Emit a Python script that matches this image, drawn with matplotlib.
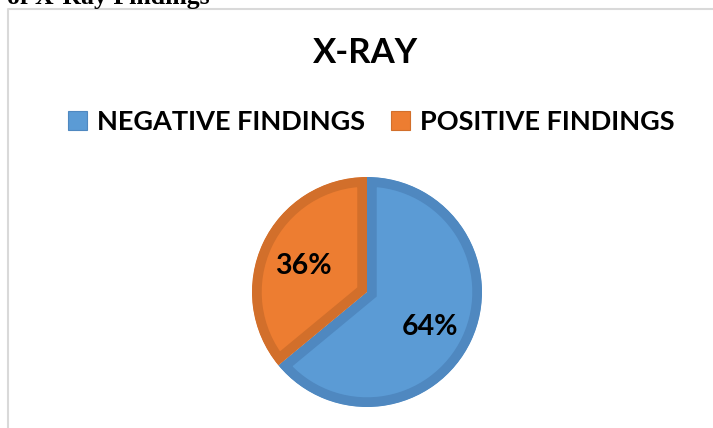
import matplotlib
matplotlib.use("Agg")
import matplotlib.pyplot as plt
import matplotlib.patches as mpatches

# data
labels = ["NEGATIVE FINDINGS", "POSITIVE FINDINGS"]
values = [64, 36]
pct_text = ["64%", "36%"]
fills = ["#5B9BD5", "#ED7D31"]
edges = ["#4F88C0", "#D26F2B"]

W, H = 713, 428
fig = plt.figure(figsize=(W / 100, H / 100), dpi=100)
ax = fig.add_axes([0, 0, 1, 1])

# caption cut off at the top of the page
ax.text(7, H - 4, "of X-Ray Findings", family="Liberation Serif", fontweight="bold",
        fontsize=18.5, va="baseline", ha="left", clip_on=False)

# chart frame (only top and left visible)
ax.plot([8, 8, W], [0, H - 9, H - 9], color="#d9d9d9", lw=1.5, solid_capstyle="butt")

font = dict(family="Lato", fontweight="bold")
ax.text(366, H - 53, "X-RAY", fontsize=25, ha="center", va="center", **font)

wedges, _ = ax.pie(values, colors=fills, startangle=90, counterclock=False,
                   center=(367, H - 292), radius=115, frame=True,
                   wedgeprops=dict(linewidth=14))
# keep the outline inside each slice
for w, ec in zip(wedges, edges):
    w.set_edgecolor(ec)
    w.set_clip_on(True)
    w.set_clip_path(w)
ax.set_xlim(0, W)
ax.set_ylim(0, H)
ax.set_aspect("equal")
ax.axis("off")

ax.text(430, H - 327, pct_text[0], fontsize=20.5, ha="center", va="center", **font)
ax.text(303, H - 266, pct_text[1], fontsize=20.5, ha="center", va="center", **font)

handles = [mpatches.Patch(facecolor=f, edgecolor=e, lw=0.8, label=l)
           for f, e, l in zip(fills, edges, labels)]
leg = ax.legend(handles=handles, loc="center", bbox_to_anchor=(371, H - 122),
                bbox_transform=ax.transData, ncol=2, frameon=False,
                prop=dict(family="Lato", weight="bold", size=19.5),
                handlelength=0.7, handleheight=0.7, handletextpad=0.37,
                columnspacing=0.96, borderpad=0)

fig.savefig("out.png", dpi=100)
